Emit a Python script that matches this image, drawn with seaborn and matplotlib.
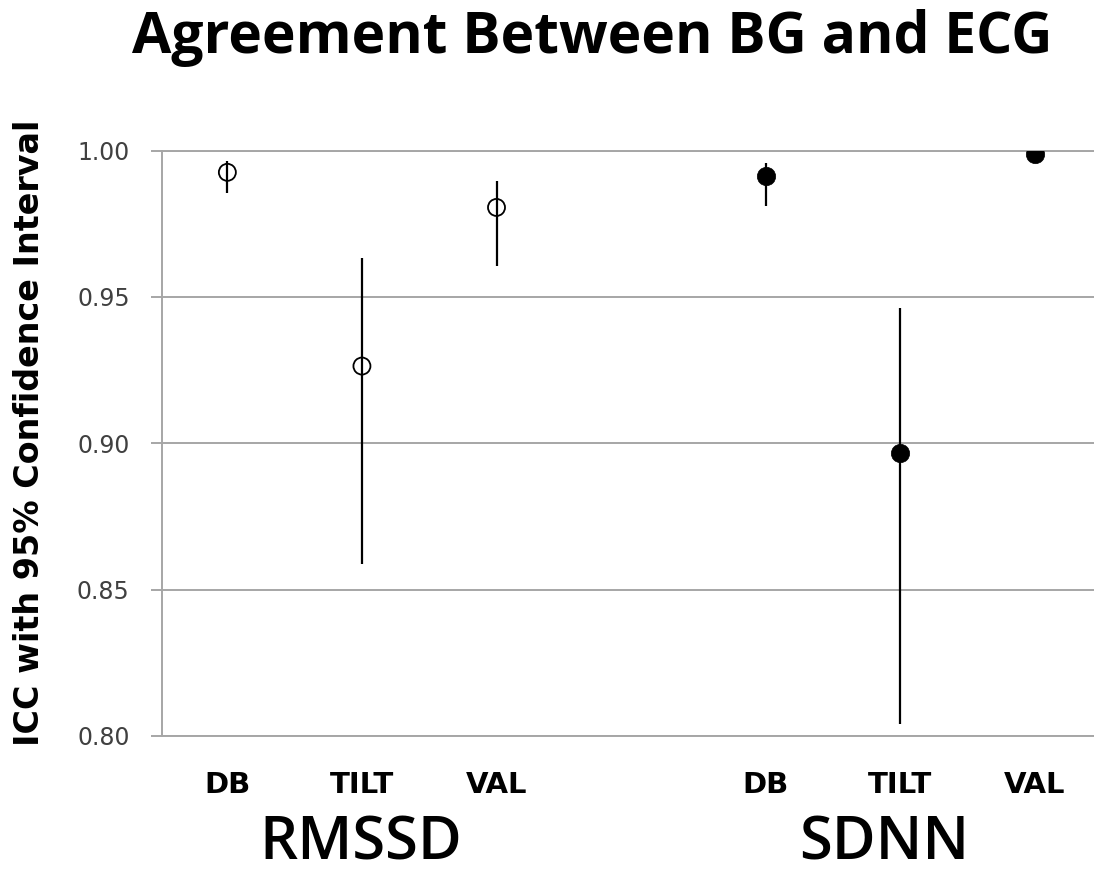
import seaborn as sns
import matplotlib.pyplot as plt
import pandas as pd

# values
metrics = ['RMSSD', 'RMSSD', 'RMSSD', 'SDNN', 'SDNN', 'SDNN']
conditions = ['DB', 'TILT', 'VAL', 'DB', 'TILT', 'VAL']
icc = [0.9926, 0.9264, 0.9806, 0.9913, 0.8966, 0.9989]
ci_low = [0.9854, 0.8587, 0.9606, 0.9811, 0.8041, 0.9982]
ci_high = [0.9966, 0.9632, 0.9897, 0.9959, 0.9464, 0.9996]
y_ticks = [0.80, 0.85, 0.90, 0.95, 1.00]

df = pd.DataFrame({'metric': metrics, 'condition': conditions,
                   'icc': icc, 'lo': ci_low, 'hi': ci_high})
# one empty slot between the two metric groups
group_idx = df['metric'].map({'RMSSD': 0, 'SDNN': 1})
df['pos'] = df.index + group_idx

sns.set_style('white')
grid_col = '#a6a6a6'

fig = plt.figure(figsize=(10.94, 8.77), dpi=100)
ax = fig.add_axes([0.1478, 0.1608, 0.8522, 0.6674])

# confidence intervals
ax.vlines(df['pos'], df['lo'], df['hi'], color='black', lw=1.6, zorder=2)

# RMSSD: open circles, SDNN: filled circles
sns.scatterplot(data=df[df['metric'] == 'RMSSD'], x='pos', y='icc', marker='o', s=150,
                facecolor='none', edgecolor='black', linewidth=1.3, ax=ax, zorder=3)
sns.scatterplot(data=df[df['metric'] == 'SDNN'], x='pos', y='icc', marker='o', s=175,
                color='black', edgecolor='black', linewidth=0.5, ax=ax, zorder=3)

ax.set_xlim(-0.488, 6.44)
ax.set_ylim(0.80, 1.00)
ax.set_yticks(y_ticks)
ax.set_yticklabels([f'{t:.2f}' for t in y_ticks])
ax.set_xticks(df['pos'])
ax.set_xticklabels(df['condition'])
ax.set_xlabel('')
ax.set_ylabel('')

ax.yaxis.grid(True, color=grid_col, lw=1.4)
ax.set_axisbelow(True)
ax.spines['right'].set_visible(False)
for side in ['left', 'bottom', 'top']:
    ax.spines[side].set_color(grid_col)
    ax.spines[side].set_linewidth(1.4)

ax.tick_params(axis='y', direction='out', length=8, width=1.4, color=grid_col,
               labelsize=17, labelcolor='#404040', pad=15, left=True)
ax.tick_params(axis='x', length=0, pad=25, labelsize=21, labelcolor='black')
for lab in ax.get_xticklabels():
    lab.set_fontweight('bold')

fig.text(0.0274, 0.507, 'ICC with 95% Confidence Interval', rotation=90,
         ha='center', va='center', fontsize=24, fontweight='bold', color='black')
fig.text(0.541, 0.9396, 'Agreement Between BG and ECG', ha='center', va='baseline',
         fontsize=41, fontweight='bold', family='Open Sans', color='black')
fig.text(0.33, 0.02, 'RMSSD', ha='center', va='baseline', fontsize=43,
         fontweight='semibold', family='Open Sans', color='black')
fig.text(0.808, 0.02, 'SDNN', ha='center', va='baseline', fontsize=43,
         fontweight='semibold', family='Open Sans', color='black')

fig.savefig('out.png', dpi=100)
